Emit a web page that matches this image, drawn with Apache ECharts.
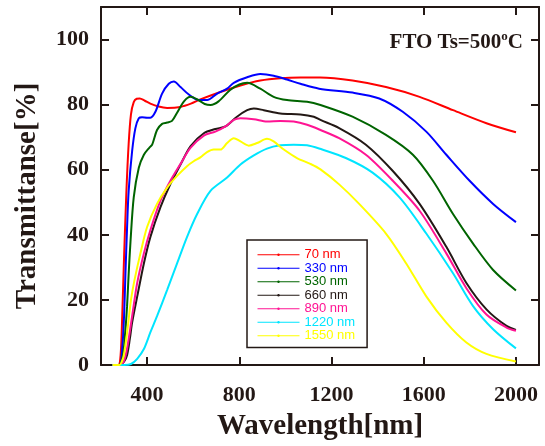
<!DOCTYPE html>
<html>
<head>
<meta charset="utf-8">
<script src="https://cdn.jsdelivr.net/npm/echarts@6/dist/echarts.min.js"></script>
<style>html,body{margin:0;padding:0;background:#fff}#c{width:545px;height:446px}</style>
</head>
<body>
<div id="c"></div>
<script>
var legendNames = ['70 nm','330 nm','530 nm','660 nm','890 nm','1220 nm','1550 nm'];
var xTicks = [400, 800, 1200, 1600, 2000];
var yTicks = [0, 20, 40, 60, 80, 100];

var red70 = [[250,0],[275,0],[285,3],[292,15],[300,33],[310,53],[320,68],[330,77],[342,80.8],[355,81.8],[368,81.9],[390,81.2],[414,80.3],[450,79.4],[487,79.0],[545,79.3],[590,80.3],[631,81.6],[718,83.9],[805,85.9],[891,87.4],[978,88.1],[1065,88.3],[1150,88.3],[1291,87.4],[1436,85.4],[1582,82.4],[1727,78.3],[1872,74.3],[2000,71.5]];
var blue330 = [[250,0],[280,0],[292,5],[300,15],[306,28],[313,42],[320,53.5],[335,65.7],[349,72.7],[364,75.8],[378,76.1],[400,76.0],[414,76.0],[436,77.8],[465,83.4],[494,86.4],[516,87.1],[545,85.4],[581,83.1],[624,81.4],[660,81.4],[704,83.4],[747,84.9],[776,86.7],[834,88.4],[891,89.4],[949,88.9],[1007,87.7],[1065,86.4],[1146,84.9],[1291,83.7],[1407,81.9],[1509,77.8],[1611,71.7],[1698,64.6],[1799,56.6],[1901,49.5],[2000,43.9]];
var green530 = [[250,0],[277,0],[295,3],[305,10],[313,18],[320,28],[328,38],[342,51.5],[364,60.6],[386,64.6],[410,66.8],[422,67.7],[443,72.2],[465,74.1],[487,74.5],[508,75.0],[530,77.5],[560,81],[588,82.4],[620,81.5],[650,80.2],[675,79.9],[710,81],[760,84.5],[800,86.2],[834,86.7],[891,84.9],[949,82.4],[1007,81.4],[1094,80.9],[1152,79.9],[1291,76.3],[1436,70.7],[1553,64.6],[1640,56.6],[1727,46.4],[1814,37.3],[1901,29.2],[2000,22.9]];
var black660 = [[250,0],[280,0],[300,1],[313,3],[325,8],[335,13],[357,21],[386,31.2],[414,39.3],[458,48.5],[501,55.6],[545,61.6],[588,67.2],[646,71.2],[696,72.5],[740,73.3],[790,76.3],[834,78.3],[863,78.8],[906,78.3],[978,77.3],[1065,77.0],[1123,76.3],[1152,75.3],[1233,72.8],[1349,67.7],[1466,59.6],[1582,49.5],[1698,36.3],[1785,25.2],[1872,17.1],[1959,12.0],[2000,10.8]];
var pink890 = [[250,0],[280,0],[298,1],[313,5],[335,15],[357,25.2],[386,34.3],[414,41.4],[458,50.5],[501,56.6],[545,61.8],[588,66.7],[646,70.5],[696,71.7],[740,73.3],[776,75.3],[805,75.8],[863,75.5],[920,74.8],[978,75.0],[1036,74.8],[1094,73.8],[1152,72.2],[1233,69.7],[1349,64.6],[1466,56.6],[1582,47.4],[1698,34.3],[1785,23.6],[1872,15.5],[1959,11.5],[2000,10.5]];
var cyan1220 = [[250,0],[300,0],[330,0.3],[357,1.9],[386,4.9],[414,10],[443,15],[487,23.1],[530,31.2],[573,39.3],[617,46.4],[675,53.5],[747,57.6],[805,61.6],[863,64.4],[920,66.5],[978,67.5],[1036,67.7],[1094,67.5],[1146,66.5],[1262,63.6],[1378,59.1],[1495,51.5],[1611,40.4],[1727,28.2],[1814,18.1],[1901,11.0],[2000,5.1]];
var yellow1550 = [[250,0],[280,0],[290,1],[299,3],[315,11],[330,20],[345,26],[371,34.3],[400,42.4],[443,49.5],[487,54.5],[530,58.1],[573,61.1],[602,62.6],[631,63.8],[660,65.4],[689,66.2],[718,66.2],[747,68.2],[776,69.7],[805,68.7],[841,67.4],[877,68.2],[920,69.5],[949,68.7],[993,66.2],[1050,63.6],[1108,61.8],[1152,60.1],[1233,55.5],[1320,49.5],[1436,40.4],[1524,31.2],[1611,21.1],[1698,13.0],[1785,6.9],[1872,3.4],[2000,1.1]];

var seriesData = [red70, blue330, green530, black660, pink890, cyan1220, yellow1550];
var colors = ['#ff0000','#0000ff','#006400','#231815','#ff1493','#00e5ff','#ffff00'];

var ink = '#231815';
var serif = 'Liberation Serif, Times New Roman, serif';

// measure annotation parts
var mctx = document.createElement('canvas').getContext('2d');
function tw(txt, size) { mctx.font = 'bold ' + size + 'px ' + serif; return mctx.measureText(txt).width; }
var annoMain = 'FTO Ts=500', annoSup = 'o', annoEnd = 'C';
var annoSize = 21, supSize = 13, annoRight = 523;
var wC = tw(annoEnd, annoSize), wO = tw(annoSup, supSize);

var chart = echarts.init(document.getElementById('c'), null, {renderer: 'canvas'});

function xAxisCfg(pos, showLabel) {
  return {
    type: 'value', min: 200, max: 2100, position: pos,
    axisLine: {show: true, onZero: false, lineStyle: {color: ink, width: 2}},
    axisTick: {show: true, inside: true, length: 8, lineStyle: {color: ink, width: 2}, customValues: xTicks},
    axisLabel: {show: showLabel, customValues: xTicks, color: ink, fontFamily: serif, fontWeight: 'bold', fontSize: 22, margin: 19,
      formatter: function (v) { return String(v); }},
    splitLine: {show: false}
  };
}
function yAxisCfg(pos, showLabel) {
  return {
    type: 'value', min: 0, max: 110, position: pos,
    axisLine: {show: true, onZero: false, lineStyle: {color: ink, width: 2}},
    axisTick: {show: true, inside: true, length: 8, lineStyle: {color: ink, width: 2}, customValues: yTicks},
    axisLabel: {show: showLabel, customValues: yTicks, color: ink, fontFamily: serif, fontWeight: 'bold', fontSize: 22, margin: 12,
      formatter: function (v) { return String(v); }},
    splitLine: {show: false}
  };
}

var xb = xAxisCfg('bottom', true);
xb.name = 'Wavelength[nm]';
xb.nameLocation = 'middle';
xb.nameGap = 47;
xb.nameTextStyle = {color: ink, fontFamily: serif, fontWeight: 'bold', fontSize: 29};
var xt = xAxisCfg('top', false);

var yl = yAxisCfg('left', true);
yl.name = 'Transmittanse[%]';
yl.nameLocation = 'middle';
yl.nameGap = 59;
yl.nameTextStyle = {color: ink, fontFamily: serif, fontWeight: 'bold', fontSize: 29, padding: [0, 20, 0, 0]};
var yr = yAxisCfg('right', false);

var series = seriesData.map(function (d, i) {
  return {
    name: legendNames[i], type: 'line', data: d,
    xAxisIndex: 0, yAxisIndex: 0,
    smooth: 0.3, symbol: 'circle', symbolSize: 3, showSymbol: false,
    lineStyle: {color: colors[i], width: 2},
    itemStyle: {color: colors[i]},
    emphasis: {disabled: true}, animation: false
  };
});

var textFont = function (size) { return {fontFamily: serif, fontWeight: 'bold', fontSize: size, fill: ink, textAlign: 'right', textVerticalAlign: 'middle'}; };

chart.setOption({
  animation: false,
  grid: {left: 101, right: 6, top: 7, bottom: 77},
  graphic: [
    {type: 'text', x: annoRight, y: 43, style: Object.assign({text: annoEnd}, textFont(annoSize))},
    {type: 'text', x: annoRight - wC, y: 37, style: Object.assign({text: annoSup}, textFont(supSize))},
    {type: 'text', x: annoRight - wC - wO, y: 43, style: Object.assign({text: annoMain}, textFont(annoSize))}
  ],
  legend: {
    data: legendNames,
    orient: 'vertical', left: 247, top: 240,
    padding: [8, 12, 5, 10],
    borderColor: ink, borderWidth: 1.5,
    itemWidth: 42, itemHeight: 3, itemGap: 0,
    lineStyle: {width: 1},
    selectedMode: false,
    textStyle: {fontFamily: 'Liberation Sans, Arial, sans-serif', fontSize: 13, lineHeight: 13.5, color: 'inherit'}
  },
  xAxis: [xb, xt],
  yAxis: [yl, yr],
  series: series
});
</script>
</body>
</html>
